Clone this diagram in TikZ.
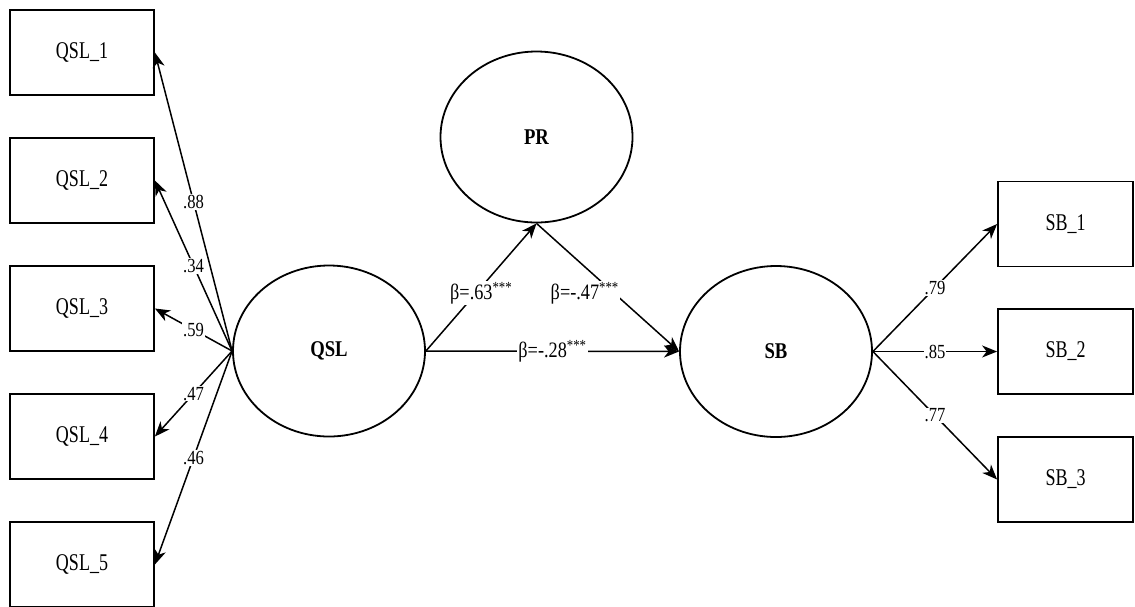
\documentclass[tikz,border=0pt]{standalone}
\usepackage{fontspec}
\setmainfont[FakeStretch=0.83]{Liberation Serif}
\newfontfamily\boxfont[FakeStretch=0.75]{Liberation Serif}
\usetikzlibrary{arrows.meta,shapes.geometric}
\begin{document}
\begin{tikzpicture}[x=1pt,y=-1pt,
  obs/.style={draw, line width=1.8pt, minimum width=144pt, minimum height=85pt, inner sep=0pt, font=\boxfont\fontsize{24}{24}\selectfont},
  obsr/.style={obs, minimum width=135pt},
  lat/.style={draw, ellipse, line width=1.8pt, minimum width=192pt, minimum height=171pt, inner sep=0pt, font=\bfseries\fontsize{22.5}{22.5}\selectfont},
  con/.style={line width=1.5pt, -{Stealth[length=15pt,width=12pt,inset=4.5pt]}},
  lab/.style={fill=white, inner sep=1pt, font=\fontsize{20}{20}\selectfont},
  blab/.style={fill=white, inner sep=1pt, font=\fontsize{22}{22}\selectfont}]
\useasboundingbox (0,0) rectangle (1135,606);
\fill[white] (0,0) rectangle (1135,606);
% observed indicators
\node[obs] (q1) at (82,52.5) {QSL\_1};
\node[obs] (q2) at (82,180.5) {QSL\_2};
\node[obs] (q3) at (82,308.5) {QSL\_3};
\node[obs] (q4) at (82,436.5) {QSL\_4};
\node[obs] (q5) at (82,564.5) {QSL\_5};
\node[obsr] (s1) at (1065.5,224) {SB\_1};
\node[obsr] (s2) at (1065.5,351.5) {SB\_2};
\node[obsr] (s3) at (1065.5,479.5) {SB\_3};
% latent variables
\node[lat] (QSL) at (329,351) {QSL};
\node[lat] (PR) at (536.5,137) {PR};
\node[lat] (SB) at (776,351.5) {SB};
% loadings
\draw[con] (QSL.west) -- node[lab] {.88} (q1.east);
\draw[con] (QSL.west) -- node[lab] {.34} (q2.east);
\draw[con] (QSL.west) -- node[lab] {.59} (q3.east);
\draw[con] (QSL.west) -- node[lab] {.47} (q4.east);
\draw[con] (QSL.west) -- node[lab] {.46} (q5.east);
\draw[con] (SB.east) -- node[lab] {.79} (s1.west);
\draw[con] (SB.east) -- node[lab] {.85} (s2.west);
\draw[con] (SB.east) -- node[lab] {.77} (s3.west);
% structural paths
\draw[con] (QSL.east) -- node[blab, yshift=-6pt] {β=.63\textsuperscript{***}} (PR.south);
\draw[con] (PR.south) -- node[blab, xshift=-23pt, yshift=-6pt] {β=-.47\textsuperscript{***}} (SB.west);
\draw[con] (QSL.east) -- node[blab] {β=-.28\textsuperscript{***}} (SB.west);
\end{tikzpicture}
\end{document}
